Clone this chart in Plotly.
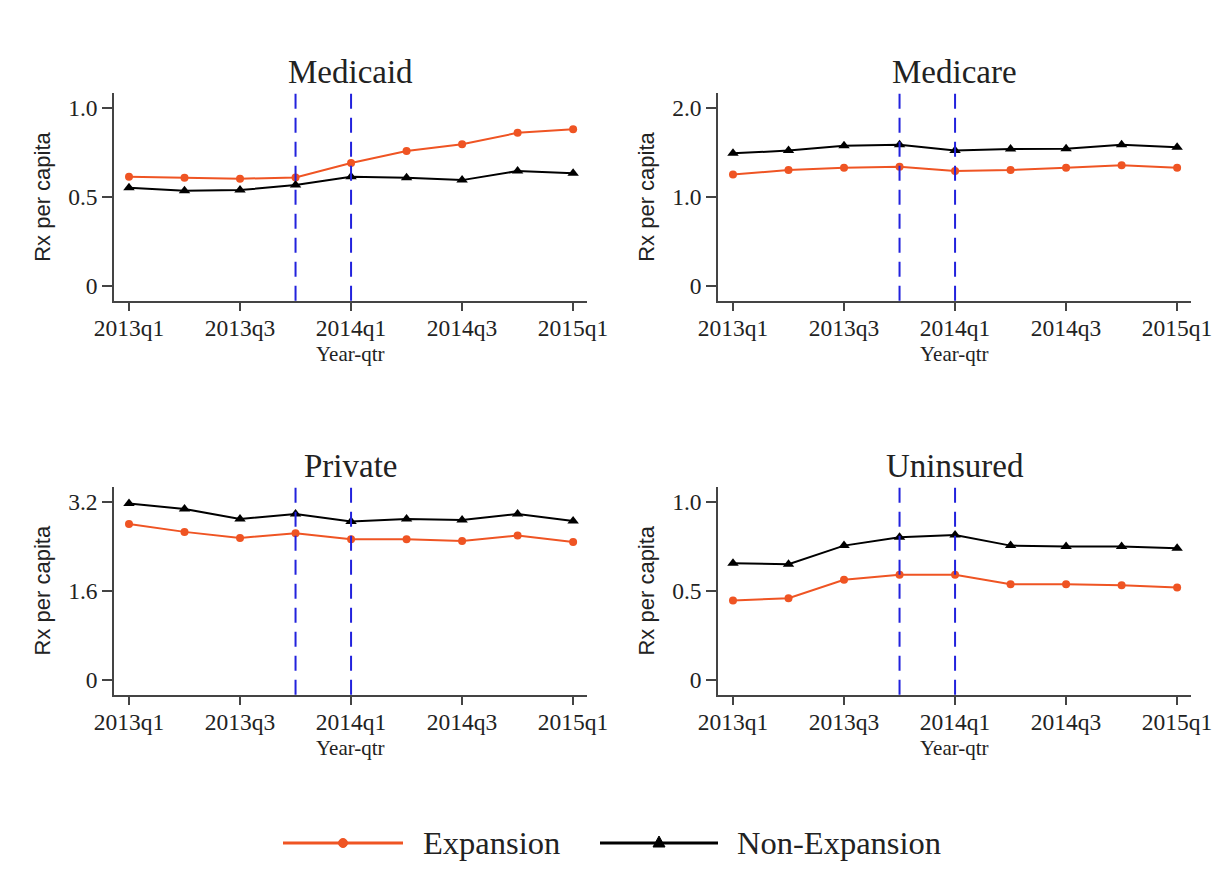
import plotly.graph_objects as go

# ---------------- data ----------------
quarters = ["2013q1", "2013q2", "2013q3", "2013q4", "2014q1",
            "2014q2", "2014q3", "2014q4", "2015q1"]
tick_quarters = ["2013q1", "2013q3", "2014q1", "2014q3", "2015q1"]
policy_quarters = ["2013q4", "2014q1"]

panels = ["Medicaid", "Medicare", "Private", "Uninsured"]

medicaid_exp = [0.614, 0.608, 0.603, 0.610, 0.691, 0.759, 0.797, 0.861, 0.881]
medicaid_non = [0.552, 0.535, 0.539, 0.567, 0.614, 0.608, 0.595, 0.646, 0.633]

medicare_exp = [1.254, 1.303, 1.330, 1.341, 1.292, 1.303, 1.330, 1.356, 1.330]
medicare_non = [1.492, 1.522, 1.578, 1.589, 1.522, 1.540, 1.544, 1.589, 1.559]

private_exp = [2.799, 2.656, 2.548, 2.632, 2.524, 2.524, 2.494, 2.590, 2.476]
private_non = [3.164, 3.068, 2.889, 2.979, 2.841, 2.889, 2.871, 2.979, 2.853]

uninsured_exp = [0.445, 0.458, 0.561, 0.589, 0.589, 0.536, 0.536, 0.531, 0.518]
uninsured_non = [0.654, 0.649, 0.753, 0.800, 0.813, 0.753, 0.748, 0.748, 0.738]

series_exp = [medicaid_exp, medicare_exp, private_exp, uninsured_exp]
series_non = [medicaid_non, medicare_non, private_non, uninsured_non]

ytick_vals = [[0, 0.5, 1.0], [0, 1.0, 2.0], [0, 1.6, 3.2], [0, 0.5, 1.0]]
ytick_text = [["0", "0.5", "1.0"], ["0", "1.0", "2.0"], ["0", "1.6", "3.2"], ["0", "0.5", "1.0"]]

x_title = "Year-qtr"
y_title = "Rx per capita"
legend_names = ["Expansion", "Non-Expansion"]

# ---------------- style ----------------
W, H = 1225, 881
EXP_COLOR = "#EF5423"
NON_COLOR = "#000000"
VLINE_COLOR = "#2222DD"
AXIS_COLOR = "#444444"
SERIF = "Liberation Serif, Times New Roman, serif"
SANS = "Liberation Sans, Arial, sans-serif"
TXT = "#222222"


def px_x(p):
    return p / W


def px_y(p):
    return 1 - p / H


# panel domains (pixels)
col_x = [(114, 587), (718, 1191)]
row_y = [(93.3, 300.7), (486.7, 694.7)]

x_index = list(range(len(quarters)))
tickvals = [quarters.index(q) for q in tick_quarters]

fig = go.Figure()
layout = dict(
    width=W, height=H,
    margin=dict(l=0, r=0, t=0, b=0, autoexpand=False),
    paper_bgcolor="white", plot_bgcolor="white",
    showlegend=False,
    font=dict(family=SERIF, color=TXT),
)
shapes = []
annotations = []

for i, name in enumerate(panels):
    r, c = divmod(i, 2)
    n = i + 1
    xa = "x" if n == 1 else f"x{n}"
    ya = "y" if n == 1 else f"y{n}"
    xkey = "xaxis" if n == 1 else f"xaxis{n}"
    ykey = "yaxis" if n == 1 else f"yaxis{n}"

    fig.add_trace(go.Scatter(
        x=x_index, y=series_exp[i], mode="lines+markers", name=legend_names[0],
        line=dict(color=EXP_COLOR, width=2),
        marker=dict(symbol="circle", size=8, color=EXP_COLOR),
        xaxis=xa, yaxis=ya))
    fig.add_trace(go.Scatter(
        x=x_index, y=series_non[i], mode="lines+markers", name=legend_names[1],
        line=dict(color=NON_COLOR, width=2),
        marker=dict(symbol="triangle-up", size=10, color=NON_COLOR),
        xaxis=xa, yaxis=ya))

    x0, x1 = col_x[c]
    yt, yb = row_y[r]
    ymax = ytick_vals[i][-1]
    pad = ymax * 0.0835

    layout[xkey] = dict(
        domain=[px_x(x0), px_x(x1)], anchor=ya, automargin=False,
        range=[-0.27, len(quarters) - 1 + 0.25],
        tickmode="array", tickvals=tickvals, ticktext=tick_quarters,
        ticks="outside", ticklen=9, tickwidth=1.5, tickcolor=AXIS_COLOR,
        ticklabelstandoff=-4,
        showline=True, linecolor=AXIS_COLOR, linewidth=1.5,
        showgrid=False, zeroline=False,
        tickfont=dict(family=SERIF, size=23.5, color=TXT),
    )
    layout[ykey] = dict(
        domain=[px_y(yb), px_y(yt)], anchor=xa, automargin=False,
        range=[-pad, ymax + pad],
        tickmode="array", tickvals=ytick_vals[i], ticktext=ytick_text[i],
        ticks="outside", ticklen=10, tickwidth=1.5, tickcolor=AXIS_COLOR,
        showline=True, linecolor=AXIS_COLOR, linewidth=1.5,
        showgrid=False, zeroline=False,
        tickfont=dict(family=SERIF, size=23.5, color=TXT),
        title=dict(text=y_title, font=dict(family=SANS, size=22, color=TXT), standoff=11),
    )

    for q in policy_quarters:
        shapes.append(dict(
            type="line", xref=xa, yref=f"{ya} domain",
            x0=quarters.index(q), x1=quarters.index(q), y0=0, y1=1,
            line=dict(color=VLINE_COLOR, width=2, dash="15px,9px")))

    # panel title
    annotations.append(dict(
        text=name, xref="paper", yref="paper",
        x=px_x((x0 + x1) / 2), y=px_y(yt - 21),
        xanchor="center", yanchor="middle", showarrow=False,
        font=dict(family=SERIF, size=33, color=TXT)))
    # x-axis title, close under the tick labels
    annotations.append(dict(
        text=x_title, xref="paper", yref="paper",
        x=px_x((x0 + x1) / 2), y=px_y(yb + 53),
        xanchor="center", yanchor="middle", showarrow=False,
        font=dict(family=SERIF, size=21, color=TXT)))

# ---------------- manual legend ----------------
ly = 843
# Expansion key
shapes.append(dict(type="line", xref="paper", yref="paper",
                   x0=px_x(283), x1=px_x(403), y0=px_y(ly), y1=px_y(ly),
                   line=dict(color=EXP_COLOR, width=3)))
shapes.append(dict(type="circle", xref="paper", yref="paper",
                   x0=px_x(343 - 4.5), x1=px_x(343 + 4.5), y0=px_y(ly + 4.5), y1=px_y(ly - 4.5),
                   fillcolor=EXP_COLOR, line=dict(color=EXP_COLOR, width=1)))
annotations.append(dict(text=legend_names[0], xref="paper", yref="paper",
                        x=px_x(421), y=px_y(ly), xanchor="left", yanchor="middle",
                        showarrow=False, font=dict(family=SERIF, size=32.5, color=TXT)))
# Non-Expansion key
shapes.append(dict(type="line", xref="paper", yref="paper",
                   x0=px_x(600), x1=px_x(718), y0=px_y(ly), y1=px_y(ly),
                   line=dict(color=NON_COLOR, width=3)))
tx = 659
tri = (f"M {px_x(tx - 6)} {px_y(ly + 4)} L {px_x(tx + 6)} {px_y(ly + 4)} "
       f"L {px_x(tx)} {px_y(ly - 7)} Z")
shapes.append(dict(type="path", xref="paper", yref="paper", path=tri,
                   fillcolor=NON_COLOR, line=dict(color=NON_COLOR, width=1)))
annotations.append(dict(text=legend_names[1], xref="paper", yref="paper",
                        x=px_x(735), y=px_y(ly), xanchor="left", yanchor="middle",
                        showarrow=False, font=dict(family=SERIF, size=32.5, color=TXT)))

layout["shapes"] = shapes
layout["annotations"] = annotations
fig.update_layout(**layout)

fig.write_html("out.html",
               config={"displayModeBar": False},
               post_script="document.body.style.margin='0px';document.body.style.overflow='hidden';")
